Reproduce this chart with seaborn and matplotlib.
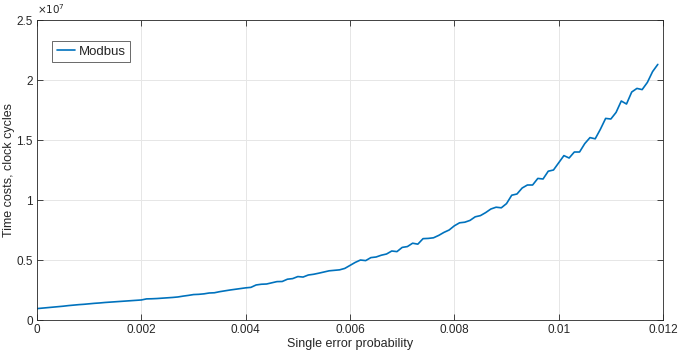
import numpy as np
import pandas as pd
import matplotlib
matplotlib.use('Agg')
import matplotlib.pyplot as plt
import seaborn as sns

# Single error probability (x 1e-3) and time costs (x 1e7 clock cycles)
prob_e3 = [i / 10 for i in range(120)]
cost_e7 = [
    0.095, 0.099, 0.103, 0.107, 0.111, 0.115, 0.120, 0.124, 0.128, 0.131,
    0.135, 0.139, 0.142, 0.146, 0.149, 0.152, 0.155, 0.158, 0.161, 0.164,
    0.167, 0.176, 0.177, 0.179, 0.182, 0.185, 0.188, 0.192, 0.199, 0.205,
    0.212, 0.214, 0.218, 0.225, 0.227, 0.236, 0.243, 0.250, 0.256, 0.262,
    0.268, 0.272, 0.292, 0.298, 0.300, 0.310, 0.320, 0.321, 0.340, 0.345,
    0.362, 0.358, 0.375, 0.381, 0.390, 0.400, 0.410, 0.414, 0.418, 0.430,
    0.455, 0.480, 0.500, 0.495, 0.520, 0.525, 0.540, 0.550, 0.575, 0.570,
    0.605, 0.612, 0.640, 0.632, 0.678, 0.680, 0.685, 0.705, 0.730, 0.750,
    0.785, 0.810, 0.815, 0.830, 0.860, 0.870, 0.895, 0.925, 0.940, 0.935,
    0.970, 1.040, 1.050, 1.100, 1.125, 1.125, 1.180, 1.175, 1.240, 1.250,
    1.310, 1.370, 1.350, 1.400, 1.400, 1.470, 1.520, 1.510, 1.590, 1.680,
    1.675, 1.730, 1.825, 1.800, 1.900, 1.930, 1.920, 1.980, 2.070, 2.130,
]
x_ticks = [0, 0.002, 0.004, 0.006, 0.008, 0.01, 0.012]
x_labels = ['0', '0.002', '0.004', '0.006', '0.008', '0.01', '0.012']
y_ticks_e7 = [0, 0.5, 1, 1.5, 2, 2.5]
y_labels = ['0', '0.5', '1', '1.5', '2', '2.5']

df = pd.DataFrame({
    'prob': np.array(prob_e3) * 1e-3,
    'cost': np.array(cost_e7) * 1e7,
})

sns.set_style('whitegrid')
plt.rcParams['font.family'] = ['Liberation Sans', 'DejaVu Sans']

fig = plt.figure(figsize=(6.78, 3.51), dpi=100)
# axes spans roughly px 37..663 horizontally, 20..320 vertically
ax = fig.add_axes([0.0546, 0.0883, 0.9233, 0.8547])

sns.lineplot(data=df, x='prob', y='cost', ax=ax, color='#0072BD',
             linewidth=1.2, label='Modbus')

ax.set_xlim(0, 0.012)
ax.set_ylim(0, 2.5e7)
ax.set_xticks(x_ticks)
ax.set_xticklabels(x_labels)
ax.set_yticks([v * 1e7 for v in y_ticks_e7])
ax.set_yticklabels(y_labels)

ax.grid(True, color='#e6e6e6', linewidth=0.7)
for s in ax.spines.values():
    s.set_color('#262626')
    s.set_linewidth(0.6)
    s.set_visible(True)
ax.tick_params(direction='in', length=4, width=0.6, color='#262626',
               labelcolor='#262626', labelsize=8.5, top=True, right=True,
               bottom=True, left=True, pad=3)

ax.set_xlabel('Single error probability', fontsize=9, color='#262626', labelpad=1)
ax.set_ylabel('Time costs, clock cycles', fontsize=9, color='#262626', labelpad=1)
ax.text(0.0, 1.012, r'$\times10^7$', transform=ax.transAxes, fontsize=7.5,
        color='#262626', ha='left', va='bottom')

leg = ax.legend(loc='upper left', bbox_to_anchor=(0.024, 0.93), fontsize=9.5,
                frameon=True, fancybox=False, handlelength=1.4,
                borderpad=0.35, handletextpad=0.25, borderaxespad=0)
leg.get_frame().set_edgecolor('#262626')
leg.get_frame().set_linewidth(0.6)

fig.savefig('out.png', dpi=100)
